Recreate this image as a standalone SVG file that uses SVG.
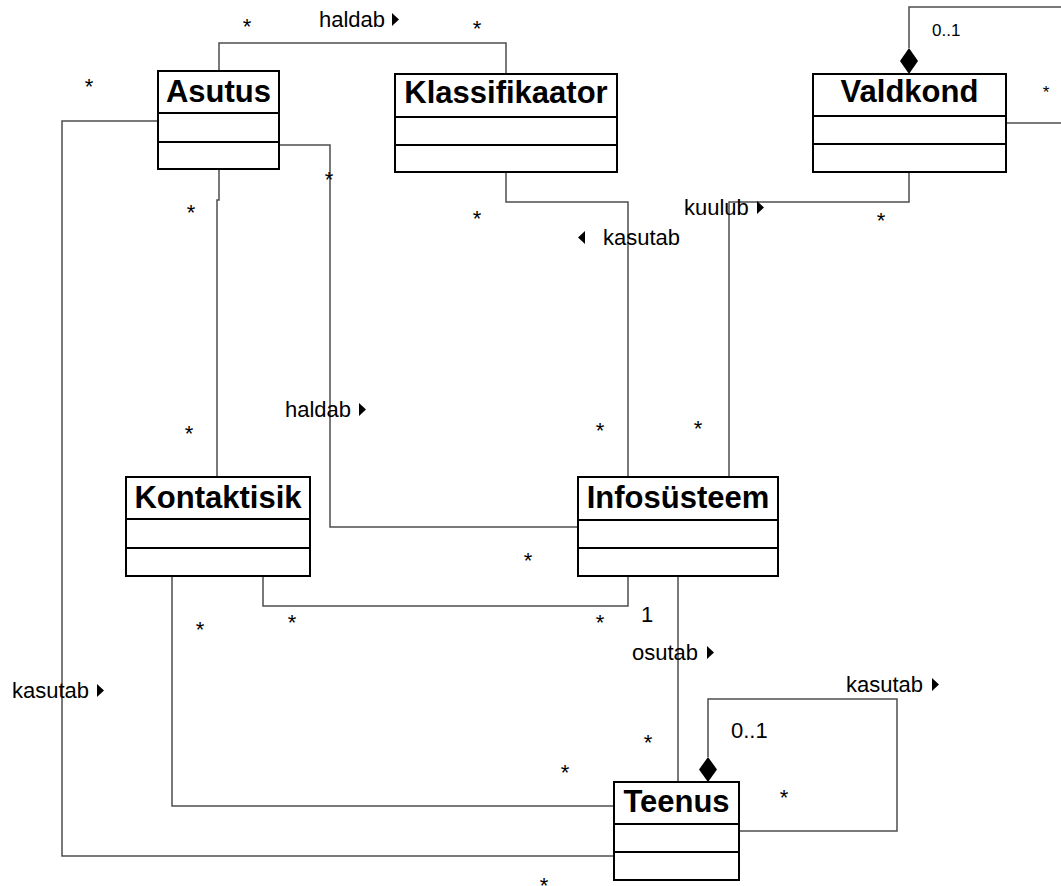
<svg xmlns="http://www.w3.org/2000/svg" width="1061" height="886" viewBox="0 0 1061 886">
<style>
.box{fill:#fff;stroke:#000;stroke-width:2}
.div{stroke:#000;stroke-width:2}
.name{font-family:"Liberation Sans",Arial,sans-serif;font-weight:bold;font-size:31px;text-anchor:middle;fill:#000}
.lbl{font-family:"Liberation Sans",Arial,sans-serif;font-size:22px;fill:#000}
.m{font-family:"Liberation Sans",Arial,sans-serif;font-size:22px;fill:#000;text-anchor:middle}
.conn path{fill:none;stroke:#4d4d4d;stroke-width:1.5}
.tri{fill:#000}
</style>
<rect width="1061" height="886" fill="#fff"/>
<g class="conn" id="connectors">
<path d="M219,71 V43 H506 V74"/>
<path d="M158,121 H62 V856 H614"/>
<path d="M279,145 H330 V527 H578"/>
<path d="M219,169 V200 H217 V477"/>
<path d="M506,172 V202 H628 V477"/>
<path d="M909,172 V202 H729 V477"/>
<path d="M909,48 V7 H1070"/>
<path d="M1006,123 H1070"/>
<path d="M263,576 V606 H628 V576"/>
<path d="M172,576 V806 H614"/>
<path d="M678,576 V782"/>
<path d="M708,757 V699 H897 V831 H739"/>
<polygon points="909,48 918,61 909,74 900,61" fill="#000"/>
<polygon points="708,757 717,769.5 708,782 699,769.5" fill="#000"/>
</g>
<g id="asutus">
<rect class="box" x="158" y="71" width="121" height="98"/>
<line class="div" x1="158" y1="113" x2="279" y2="113"/>
<line class="div" x1="158" y1="142" x2="279" y2="142"/>
<text class="name" x="218.5" y="102">Asutus</text>
</g>
<g id="klassifikaator">
<rect class="box" x="395" y="74" width="222" height="98"/>
<line class="div" x1="395" y1="117" x2="617" y2="117"/>
<line class="div" x1="395" y1="145" x2="617" y2="145"/>
<text class="name" x="506" y="103">Klassifikaator</text>
</g>
<g id="valdkond">
<rect class="box" x="813" y="74" width="193" height="98"/>
<line class="div" x1="813" y1="116" x2="1006" y2="116"/>
<line class="div" x1="813" y1="144" x2="1006" y2="144"/>
<text class="name" x="909.5" y="102">Valdkond</text>
</g>
<g id="kontaktisik">
<rect class="box" x="126" y="477" width="184" height="99"/>
<line class="div" x1="126" y1="519" x2="310" y2="519"/>
<line class="div" x1="126" y1="548" x2="310" y2="548"/>
<text class="name" x="218" y="508">Kontaktisik</text>
</g>
<g id="infosysteem">
<rect class="box" x="578" y="477" width="200" height="99"/>
<line class="div" x1="578" y1="520" x2="778" y2="520"/>
<line class="div" x1="578" y1="548" x2="778" y2="548"/>
<text class="name" x="678" y="508">Infosüsteem</text>
</g>
<g id="teenus">
<rect class="box" x="614" y="782" width="125" height="98"/>
<line class="div" x1="614" y1="824" x2="739" y2="824"/>
<line class="div" x1="614" y1="852" x2="739" y2="852"/>
<text class="name" x="676.5" y="812">Teenus</text>
</g>
<g id="labels">
<text class="lbl" x="319" y="27">haldab</text>
<polygon class="tri" points="392,13 399,19.5 392,26"/>
<text class="lbl" x="285" y="417">haldab</text>
<polygon class="tri" points="359,403 366,409.5 359,416"/>
<text class="lbl" x="12" y="698">kasutab</text>
<polygon class="tri" points="97,684 104,690.5 97,697"/>
<polygon class="tri" points="585,231 578,237.5 585,244"/>
<text class="lbl" x="603" y="245">kasutab</text>
<text class="lbl" x="684" y="215">kuulub</text>
<polygon class="tri" points="757,201 764,207.5 757,214"/>
<text class="lbl" x="632" y="660">osutab</text>
<polygon class="tri" points="707,646 714,652.5 707,659"/>
<text class="lbl" x="846" y="692">kasutab</text>
<polygon class="tri" points="932,678 939,684.5 932,691"/>
<text class="lbl" x="641" y="622">1</text>
<text class="lbl" x="731" y="738">0..1</text>
<text class="lbl" x="932" y="36" style="font-size:17px">0..1</text>
<text class="m" x="1046" y="98" style="font-size:17px">*</text>
<text class="m" x="247" y="34">*</text>
<text class="m" x="477" y="36">*</text>
<text class="m" x="89" y="94">*</text>
<text class="m" x="329" y="187">*</text>
<text class="m" x="191" y="220">*</text>
<text class="m" x="477" y="226">*</text>
<text class="m" x="881" y="228">*</text>
<text class="m" x="189" y="441">*</text>
<text class="m" x="600" y="438">*</text>
<text class="m" x="698" y="436">*</text>
<text class="m" x="528" y="568">*</text>
<text class="m" x="292" y="630">*</text>
<text class="m" x="200" y="637">*</text>
<text class="m" x="600" y="630">*</text>
<text class="m" x="648" y="750">*</text>
<text class="m" x="565" y="780">*</text>
<text class="m" x="784" y="805">*</text>
<text class="m" x="544" y="893">*</text>
</g>
</svg>
